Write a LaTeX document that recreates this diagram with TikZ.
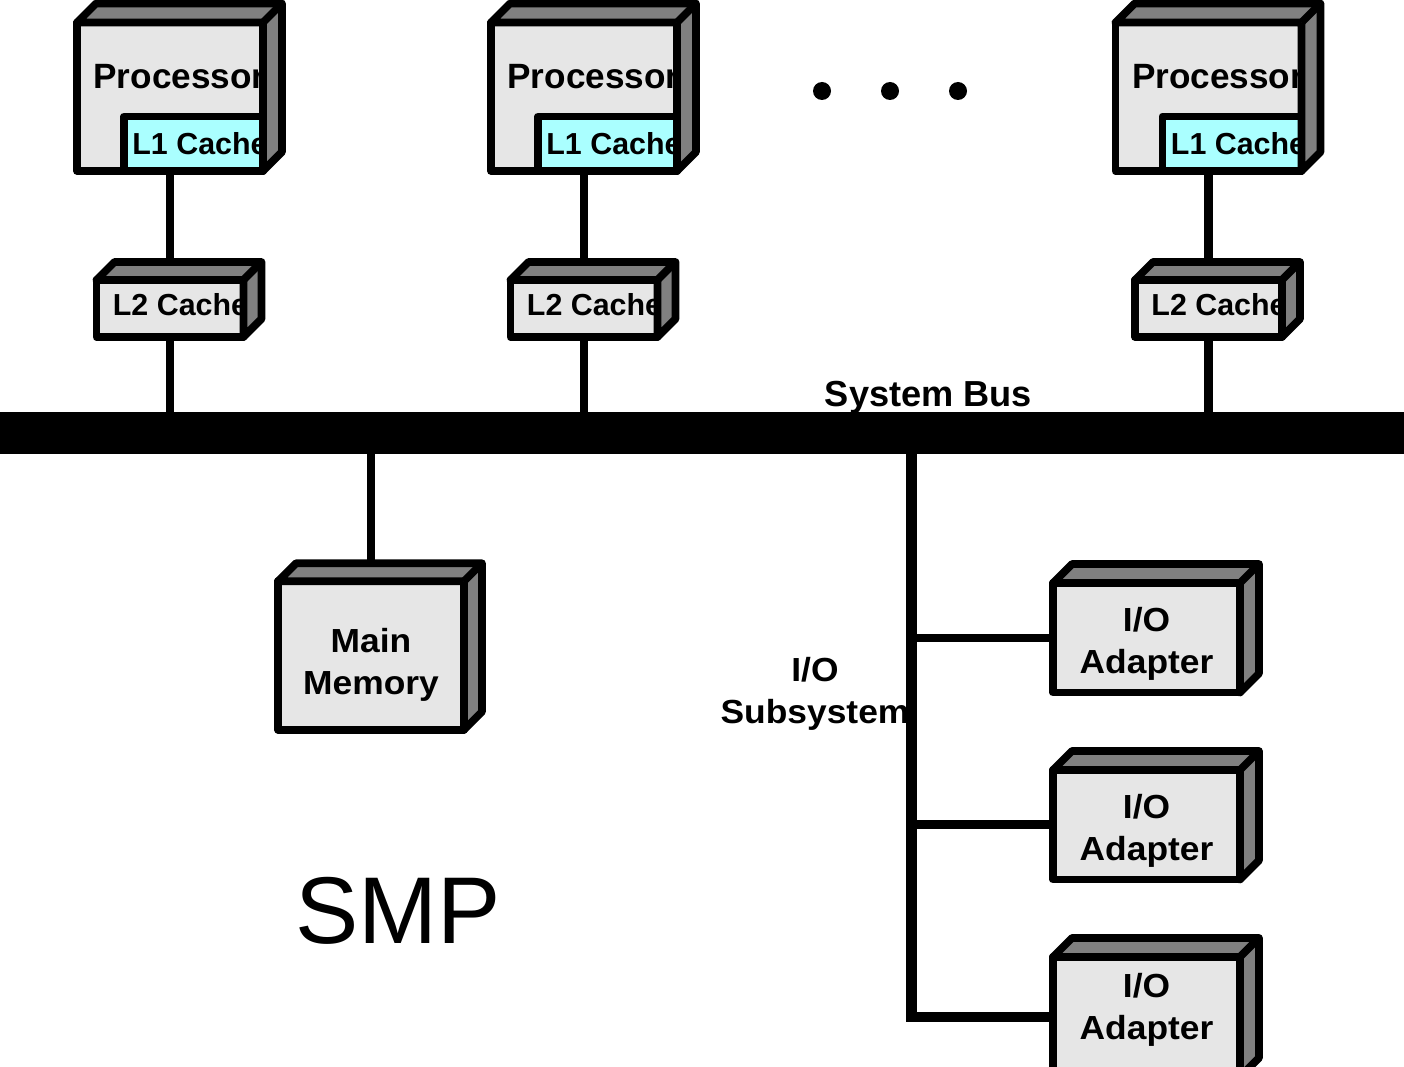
\documentclass[tikz,border=0pt]{standalone}
\usepackage{fontspec}
\setmainfont{Liberation Sans}
\newfontfamily\widesans[FakeStretch=1.06]{Liberation Sans}
\usetikzlibrary{positioning, calc, backgrounds}
\definecolor{frontgray}{RGB}{230,230,230}
\definecolor{sidegray}{RGB}{128,128,128}
\definecolor{cachecyan}{RGB}{170,255,255}

% top and right faces of a box, #2 = depth
\newcommand{\boxsides}[2]{%
    \draw[side] (#1.north west) -- ++(#2,-#2) -- ($(#1.north east)+(#2,-#2)$) -- ($(#1.south east)+(#2,-#2)$) -- (#1.south east) -- (#1.north east) -- cycle;
    \draw[side] (#1.north east) -- ++(#2,-#2);
}

\begin{document}
\begin{tikzpicture}[
    x=0.02cm, y=-0.02cm,
    node distance=1.55cm,
    box/.style={draw, line width=4.4pt, line join=round, fill=frontgray, inner sep=0pt, outer sep=0pt},
    side/.style={draw, line width=4.4pt, line join=round, fill=sidegray},
    bigbox/.style={box, minimum width=3.72cm, minimum height=2.97cm},
    l1box/.style={box, fill=cachecyan, minimum width=2.78cm, minimum height=1.09cm},
    l2box/.style={box, minimum width=2.94cm, minimum height=1.14cm},
    iobox/.style={box, minimum width=3.74cm, minimum height=2.19cm},
    busbar/.style={fill, inner sep=0pt, outer sep=0pt, minimum width=28.08cm, minimum height=0.84cm},
    bigtext/.style={font=\bfseries\fontsize{20}{24}\selectfont, inner sep=0pt},
    cachetext/.style={font=\bfseries\fontsize{17.3}{20}\selectfont, inner sep=0pt},
    blocktext/.style={font=\widesans\bfseries\fontsize{19}{24}\selectfont, inner sep=0pt, align=center},
    link/.style={line width=4.8pt},
    ioline/.style={line width=5.9pt},
    dot/.style={circle, fill, inner sep=0pt, minimum size=0.36cm}
]
    \useasboundingbox (0,0) rectangle (1404,1067);
    \clip (0,0) rectangle (1404,1067);

    % processors with L1 and L2
    \node[bigbox, label={[bigtext, xshift=0.19cm, yshift=0.395cm]center:Processor}] (p1) at (170,96.75) {};
    \node[l1box, anchor=south east, label={[cachetext, xshift=0.13cm]center:L1 Cache}] (l1a) at (p1.south east) {};
    \boxsides{p1}{19}
    \node[l2box, below=2.18cm of p1, label={[cachetext, xshift=0.21cm, yshift=0.08cm]center:L2 Cache}] (l2a) {};
    \boxsides{l2a}{18}

    \node[bigbox, label={[bigtext, xshift=0.19cm, yshift=0.395cm]center:Processor}] (p2) at (584,96.75) {};
    \node[l1box, anchor=south east, label={[cachetext, xshift=0.13cm]center:L1 Cache}] (l1b) at (p2.south east) {};
    \boxsides{p2}{19}
    \node[l2box, below=2.18cm of p2, label={[cachetext, xshift=0.21cm, yshift=0.08cm]center:L2 Cache}] (l2b) {};
    \boxsides{l2b}{18}

    \node[bigbox, label={[bigtext, xshift=0.19cm, yshift=0.395cm]center:Processor}] (p3) at (1208.5,96.75) {};
    \node[l1box, anchor=south east, label={[cachetext, xshift=0.13cm]center:L1 Cache}] (l1c) at (p3.south east) {};
    \boxsides{p3}{19}
    \node[l2box, below=2.18cm of p3, label={[cachetext, xshift=0.21cm, yshift=0.08cm]center:L2 Cache}] (l2c) {};
    \boxsides{l2c}{18}

    \foreach \i/\x in {1/822,2/890,3/958}
        \node[dot] (dot\i) at (\x,91) {};

    % bus
    \node[busbar] (bus) at (702,433) {};
    \node[bigtext, font=\bfseries\fontsize{20.6}{24}\selectfont, anchor=base] (buslabel) at (928.5,407) {System Bus};

    % memory
    \node[bigbox, label={[blocktext, yshift=-0.186cm]center:Main\\Memory}] (mem) at (371,655.5) {};
    \boxsides{mem}{18}

    % I/O adapters
    \node[iobox, label={[blocktext, yshift=-0.125cm]center:I/O\\Adapter}] (io1) at (1146.5,637.75) {};
    \node[iobox, below=of io1, label={[blocktext, yshift=-0.125cm]center:I/O\\Adapter}] (io2) {};
    \node[iobox, below=of io2, minimum height=2.4cm, label={[blocktext, yshift=0.14cm]center:I/O\\Adapter}] (io3) {};
    \boxsides{io1}{19}
    \boxsides{io2}{19}
    \boxsides{io3}{19}

    \node[blocktext] (iolabel) at (815,694) {I/O\\Subsystem};
    \node[font=\fontsize{54}{60}\selectfont, inner sep=0pt] (smp) at (398,910.5) {SMP};

    \begin{scope}[on background layer]
        \draw[link] (l1a.south -| l2a) -- (l2a);
        \draw[link] (l1b.south -| l2b) -- (l2b);
        \draw[link] (l1c.south -| l2c) -- (l2c);
        \draw[link] (l2a) -- (l2a |- bus.north);
        \draw[link] (l2b) -- (l2b |- bus.north);
        \draw[link] (l2c) -- (l2c |- bus.north);
        \draw[link] (mem |- bus.south) -- (mem);
    \end{scope}

    \coordinate (iobus) at (911.5,454);
    \draw[ioline] (iobus) |- (io3);
    \draw[link] (iobus |- io1) -- (io1);
    \draw[link] (iobus |- io2) -- (io2);
\end{tikzpicture}
\end{document}
